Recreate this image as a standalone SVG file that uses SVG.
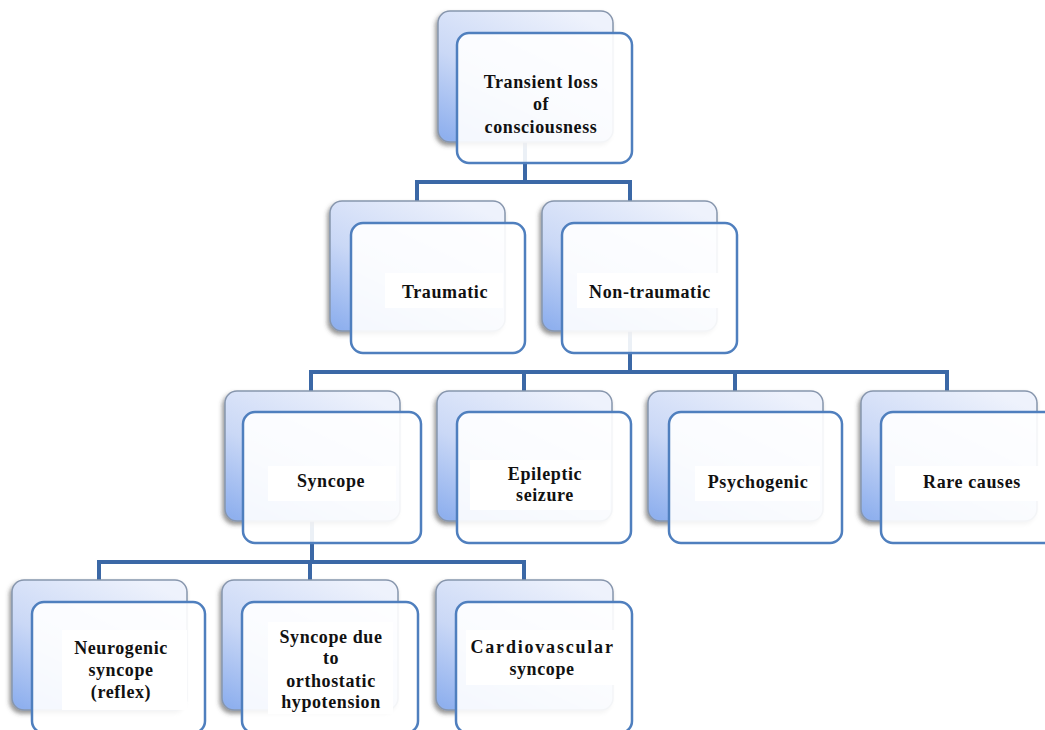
<svg xmlns="http://www.w3.org/2000/svg" width="1045" height="730" viewBox="0 0 1045 730">
<defs>
<linearGradient id="bg" x1="0.75" y1="0" x2="0.1" y2="1">
<stop offset="0" stop-color="#eef2fc"/>
<stop offset="0.55" stop-color="#cad8f6"/>
<stop offset="1" stop-color="#8fb0ee"/>
</linearGradient>
<filter id="sh" x="-10%" y="-10%" width="120%" height="125%">
<feDropShadow dx="-2" dy="3" stdDeviation="2" flood-color="#404040" flood-opacity="0.55"/>
</filter>
<style>
.back{fill:url(#bg);stroke:#8796ad;stroke-width:1.5;filter:url(#sh)}
.front{fill:#ffffff;fill-opacity:0.9;stroke:#4f7fbe;stroke-width:2.5}
.lab{fill:#ffffff}
.con{fill:none;stroke:#3b68a6;stroke-width:4}
text{font-family:"Liberation Serif","Times New Roman",serif;font-weight:bold;font-size:18px;letter-spacing:0.6px;fill:#111111;text-anchor:middle}
</style>
</defs>
<rect width="1045" height="730" fill="#ffffff"/>

<g id="connectors">
<path class="con" d="M525 142 V182 M417 201 V182 H630 V201"/>
<path class="con" d="M630 331 V372 M311 391 V372 H947 V391 M524 372 V391 M735 372 V391"/>
<path class="con" d="M312 521 V562 M99 580 V562 H524 V580 M310 562 V580"/>
</g>

<g id="n-tloc">
<rect class="back" x="438" y="11" width="175" height="131" rx="12"/>
<rect class="front" x="457" y="33" width="175" height="130" rx="12"/>
<text x="541" y="88">Transient loss</text>
<text x="541" y="110">of</text>
<text x="541" y="133">consciousness</text>
</g>

<g id="n-traumatic">
<rect class="back" x="330" y="201" width="175" height="130" rx="12"/>
<rect class="front" x="351" y="223" width="174" height="130" rx="12"/>
<rect class="lab" x="385" y="273" width="118" height="35"/>
<text x="445" y="298">Traumatic</text>
</g>

<g id="n-nontraumatic">
<rect class="back" x="542" y="201" width="175" height="130" rx="12"/>
<rect class="front" x="562" y="223" width="175" height="130" rx="12"/>
<rect class="lab" x="577" y="273" width="144" height="35"/>
<text x="650" y="298">Non-traumatic</text>
</g>

<g id="n-syncope">
<rect class="back" x="225" y="391" width="175" height="130" rx="12"/>
<rect class="front" x="243" y="412" width="178" height="131" rx="12"/>
<rect class="lab" x="268" y="466" width="128" height="35"/>
<text x="331" y="487">Syncope</text>
</g>

<g id="n-epileptic">
<rect class="back" x="437" y="391" width="175" height="130" rx="12"/>
<rect class="front" x="457" y="412" width="174" height="131" rx="12"/>
<rect class="lab" x="470" y="460" width="140" height="50"/>
<text x="545" y="480">Epileptic</text>
<text x="545" y="501">seizure</text>
</g>

<g id="n-psychogenic">
<rect class="back" x="648" y="391" width="175" height="130" rx="12"/>
<rect class="front" x="669" y="412" width="173" height="131" rx="12"/>
<rect class="lab" x="695" y="466" width="125" height="35"/>
<text x="758" y="488">Psychogenic</text>
</g>

<g id="n-rare">
<rect class="back" x="861" y="391" width="176" height="130" rx="12"/>
<rect class="front" x="881" y="412" width="175" height="131" rx="12"/>
<rect class="lab" x="895" y="466" width="150" height="35"/>
<text x="972" y="488">Rare causes</text>
</g>

<g id="n-neurogenic">
<rect class="back" x="12" y="580" width="175" height="130" rx="12"/>
<rect class="front" x="32" y="602" width="173" height="131" rx="12"/>
<rect class="lab" x="62" y="630" width="125" height="80"/>
<text x="121" y="654">Neurogenic</text>
<text x="121" y="676">syncope</text>
<text x="121" y="698">(reflex)</text>
</g>

<g id="n-orthostatic">
<rect class="back" x="222" y="580" width="176" height="130" rx="12"/>
<rect class="front" x="242" y="602" width="176" height="131" rx="12"/>
<rect class="lab" x="268" y="622" width="125" height="92"/>
<text x="331" y="643">Syncope due</text>
<text x="331" y="664">to</text>
<text x="331" y="687">orthostatic</text>
<text x="331" y="708">hypotension</text>
</g>

<g id="n-cardio">
<rect class="back" x="436" y="580" width="177" height="130" rx="12"/>
<rect class="front" x="456" y="602" width="176" height="131" rx="12"/>
<rect class="lab" x="466" y="630" width="156" height="55"/>
<text x="542" y="653" textLength="143" lengthAdjust="spacing">Cardiovascular</text>
<text x="542" y="675">syncope</text>
</g>
</svg>
